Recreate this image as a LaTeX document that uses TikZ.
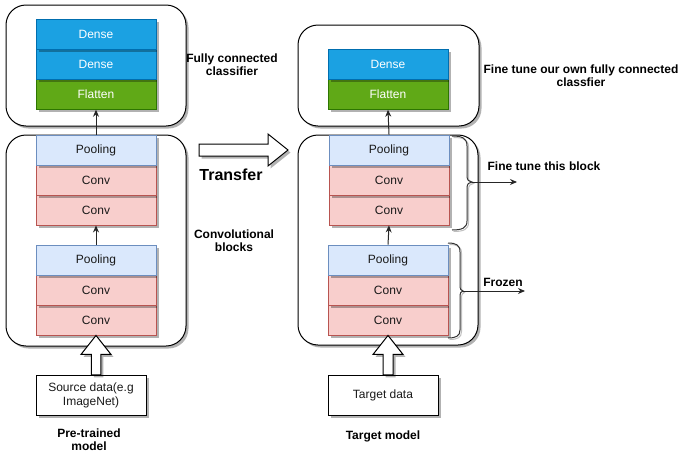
\documentclass[tikz,border=0pt]{standalone}
\usepackage{fontspec}
\setmainfont{Liberation Sans}
\usetikzlibrary{arrows.meta,shadows,calc}
\definecolor{denseF}{HTML}{1BA1E2}
\definecolor{denseD}{HTML}{006EAF}
\definecolor{flatF}{HTML}{60A917}
\definecolor{flatD}{HTML}{2D7600}
\definecolor{poolF}{HTML}{DAE8FC}
\definecolor{poolD}{HTML}{6C8EBF}
\definecolor{convF}{HTML}{F8CECC}
\definecolor{convD}{HTML}{B85450}
\begin{document}
\begin{tikzpicture}[x=1pt,y=-1pt,
  shadowed/.style={drop shadow={shadow xshift=2.5pt,shadow yshift=-2.5pt,opacity=0.3,fill=black}},
  layer/.style={rectangle,minimum width=120pt,minimum height=30pt,line width=0.9pt,inner sep=0pt,
    font=\fontsize{12pt}{14pt}\selectfont,shadowed},
  dense/.style={layer,fill=denseF,draw=denseD,text=white},
  flat/.style={layer,fill=flatF,draw=flatD,text=white},
  pool/.style={layer,fill=poolF,draw=poolD,text=black!90},
  conv/.style={layer,fill=convF,draw=convD,text=black!90},
  container/.style={rectangle,draw,line width=1pt,rounded corners=20pt,fill=white,shadowed,inner sep=0pt},
  databox/.style={rectangle,draw,line width=1pt,fill=white,shadowed,minimum width=110pt,minimum height=40pt,
    inner sep=0pt,align=center,font=\fontsize{12pt}{14pt}\selectfont,text=black!90},
  lbl/.style={align=center,inner sep=0pt,font=\bfseries\fontsize{12pt}{13pt}\selectfont},
  conn/.style={draw=black!85,line width=1pt,-{Stealth[length=7pt,width=6pt]}},
  blockarrow/.style={draw,fill=white,line width=1pt,shadowed,line join=miter},
  brace/.style={draw=black!80,line width=1pt},
  braceshadow/.style={draw=black!25,line width=1pt}]
\useasboundingbox (0,0) rectangle (697,461);

% containers
\node[container,minimum width=180pt,minimum height=121pt] (ltop) at (96,65.5) {};
\node[container,minimum width=180pt,minimum height=211pt] (lbot) at (96,240.5) {};
\node[container,minimum width=181pt,minimum height=101pt] (rtop) at (388.5,75.5) {};
\node[container,minimum width=180pt,minimum height=210pt] (rbot) at (388,240) {};

% left classifier
\node[flat] (lflat) at (96,94.3) {Flatten};
\node[dense] (ldense2) at (96,64.3) {Dense};
\node[dense] (ldense1) at (96,34.3) {Dense};

% left conv block 1
\node[conv] (lconv1b) at (96,210) {Conv};
\node[conv] (lconv1a) at (96,180) {Conv};
\node[pool] (lpool1) at (96,150) {Pooling};
% left conv block 2
\node[conv] (lconv2b) at (96,320) {Conv};
\node[conv] (lconv2a) at (96,290) {Conv};
\node[pool] (lpool2) at (96,260) {Pooling};

% right classifier
\node[flat] (rflat) at (388,94.3) {Flatten};
\node[dense] (rdense) at (388,64.3) {Dense};

% right conv block 1
\node[conv] (rconv1b) at (389,210) {Conv};
\node[conv] (rconv1a) at (389,180) {Conv};
\node[pool] (rpool1) at (389,150) {Pooling};
% right conv block 2
\node[conv] (rconv2b) at (388,320) {Conv};
\node[conv] (rconv2a) at (388,290) {Conv};
\node[pool] (rpool2) at (388,260) {Pooling};

% connectors
\draw[conn] (lpool1.north) -- (lflat.south);
\draw[conn] (lpool2.north) -- (lconv1b.south);
\draw[conn] (rpool1.north) -- (rflat.south);
\draw[conn] (rpool2.north) -- (rconv1b.south);

% data boxes
\node[databox] (src) at (91,395) {Source data(e.g\\ImageNet)};
\node[databox] (tgt) at (383,395) {Target data};

% block arrows up
\draw[blockarrow] (lconv2b.south) -- ++(15,19) -- ++(-10.25,0) -- ++(0,20.5) -- ++(-9.5,0) -- ++(0,-20.5) -- ++(-10.25,0) -- cycle;
\draw[blockarrow] (rconv2b.south) -- ++(15,19) -- ++(-10,0) -- ++(0,20.5) -- ++(-10,0) -- ++(0,-20.5) -- ++(-10,0) -- cycle;

% transfer arrow
\draw[blockarrow] (199,144) -- (268,144) -- (268,134) -- (288,150) -- (268,166) -- (268,156) -- (199,156) -- cycle;

% braces
\begin{scope}[shift={(1.5,1.5)}]
\draw[braceshadow] (452,136) .. controls (462,136) and (467,138) .. (467,146) -- (467,176)
  .. controls (467,180) and (469,182) .. (472,182) .. controls (469,182) and (467,184) .. (467,188)
  -- (467,221) .. controls (467,228) and (462,230) .. (452,230);
\draw[braceshadow] (448,243) .. controls (456,243) and (460,245) .. (460,252) -- (460,285)
  .. controls (460,289) and (461,291) .. (463,291) .. controls (461,291) and (460,293) .. (460,297)
  -- (460,330) .. controls (460,336) and (456,338) .. (448,338);
\end{scope}
\draw[brace] (452,136) .. controls (462,136) and (467,138) .. (467,146) -- (467,176)
  .. controls (467,180) and (469,182) .. (472,182) coordinate (tip1) .. controls (469,182) and (467,184) .. (467,188)
  -- (467,221) .. controls (467,228) and (462,230) .. (452,230);
\draw[brace] (448,243) .. controls (456,243) and (460,245) .. (460,252) -- (460,285)
  .. controls (460,289) and (461,291) .. (463,291) coordinate (tip2) .. controls (461,291) and (460,293) .. (460,297)
  -- (460,330) .. controls (460,336) and (456,338) .. (448,338);
\coordinate (end1) at (517,182);
\coordinate (end2) at (525,291);
\draw[conn] (tip1) -- (end1);
\draw[conn] (tip2) -- (end2);

% labels
\node[lbl] (fcl) at (232,64.5) {Fully connected\\classifier};
\node[lbl,font=\bfseries\fontsize{16pt}{18pt}\selectfont] (transfer) at (231,175) {Transfer};
\node[lbl] (convl) at (234,240.5) {Convolutional\\blocks};
\node[lbl] (pre) at (89,440) {Pre-trained\\model};
\node[lbl] (ftown) at (581,75.5) {Fine tune our own fully connected\\classfier};
\node[lbl] (ftblock) at (544,166) {Fine tune this block};
\node[lbl] (frozen) at (503,282) {Frozen};
\node[lbl] (tmodel) at (383,436) {Target model};
\end{tikzpicture}
\end{document}
